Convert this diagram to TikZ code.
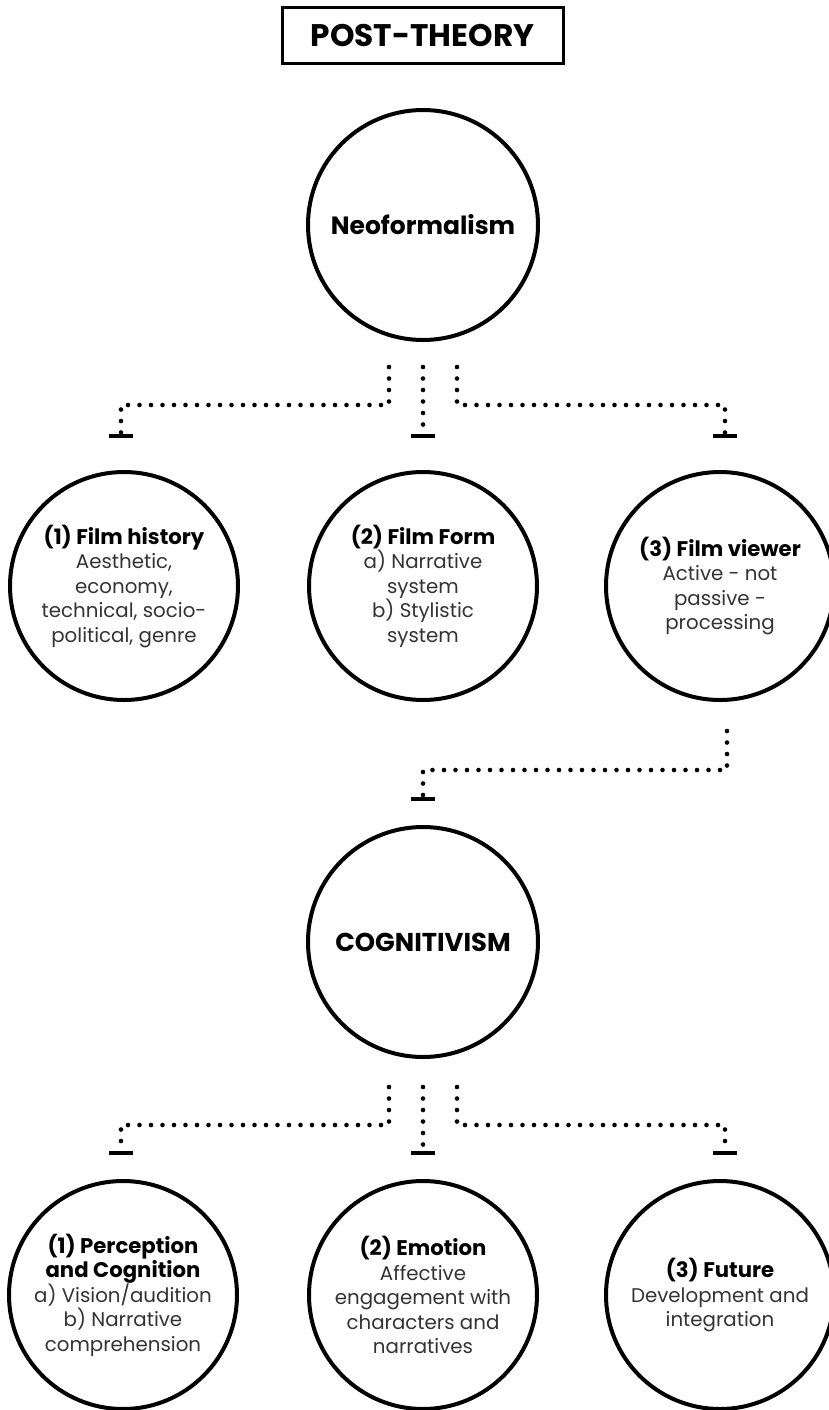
\documentclass[tikz,border=0pt]{standalone}
\usepackage{fontspec}
\setmainfont{Poppins}
\definecolor{bodygray}{HTML}{333333}
\newcommand{\head}[1]{\textcolor{black}{\fontsize{10.6}{12.25}\selectfont\textbf{#1}}}

\begin{document}
\begin{tikzpicture}[x=0.5pt,y=-0.5pt,
  bubble/.style={circle,draw,line width=2pt,minimum size=114pt,inner sep=0pt,align=center,text=bodygray,font=\fontsize{9.9}{12.25}\selectfont},
  bigbubble/.style={bubble,minimum size=115pt,text=black,font=\fontsize{12.5}{15}\selectfont\bfseries},
  dotline/.style={line width=2.3pt,line cap=round,dash pattern=on 0pt off 5.75pt},
  tick/.style={fill=black,minimum width=12pt,minimum height=2pt,inner sep=0pt}]
  \useasboundingbox (0,0) rectangle (829,1410);
  \node[draw,line width=1.5pt,minimum width=140.5pt,minimum height=28pt,font=\fontsize{15.6}{18}\selectfont\bfseries] (post) at (422.5,35) {POST-THEORY};
  \node[bigbubble] (neo) at (423,225) {Neoformalism};
  % first level
  \node[tick] (t1) at (121,436) {};
  \node[tick] (t2) at (423,436) {};
  \node[tick] (t3) at (725,436) {};
  \draw[dotline] ([xshift=-17pt,yshift=-12.5pt]neo.south) -- ++(0,38) -| (t1.north);
  \draw[dotline] ([yshift=-12.5pt]neo.south) -- (t2.north);
  \draw[dotline] ([xshift=17pt,yshift=-12.5pt]neo.south) -- ++(0,38) -| (t3.north);
  \node[bubble] (fh) at (124,586) {\head{(1) Film history}\\Aesthetic,\\economy,\\technical, socio-\\political, genre};
  \node[bubble] (ff) at (423,586) {\head{(2) Film Form}\\a) Narrative\\system\\b) Stylistic\\system};
  \node[bubble] (fv) at (720,586) {\head{(3) Film viewer}\\Active - not\\passive -\\processing};
  % viewer leads to cognitivism
  \node[tick] (t4) at (423,799) {};
  \draw[dotline] ([xshift=3.5pt,yshift=-14.5pt]fv.south) -- ++(0,39) -| (t4.north);
  \node[bigbubble,font=\fontsize{12.9}{15}\selectfont\bfseries] (cog) at (423,942) {COGNITIVISM};
  % second level
  \node[tick] (t5) at (121,1153) {};
  \node[tick] (t6) at (423,1153) {};
  \node[tick] (t7) at (725,1153) {};
  \draw[dotline] ([xshift=-17pt,yshift=-14pt]cog.south) -- ++(0,38) -| (t5.north);
  \draw[dotline] ([yshift=-14pt]cog.south) -- (t6.north);
  \draw[dotline] ([xshift=17pt,yshift=-14pt]cog.south) -- ++(0,38) -| (t7.north);
  \node[bubble] (pc) at (123,1295) {\head{(1) Perception}\\\head{and Cognition}\\a) Vision/audition\\b) Narrative\\comprehension};
  \node[bubble] (em) at (423,1295) {\head{(2) Emotion}\\Affective\\engagement with\\characters and\\narratives};
  \node[bubble] (fu) at (720,1295) {\head{(3) Future}\\Development and\\integration};
\end{tikzpicture}
\end{document}
